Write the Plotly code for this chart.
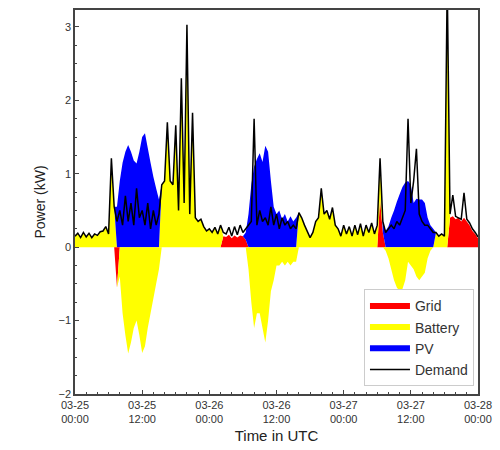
import numpy as np
import pandas as pd
import plotly.graph_objects as go

# 30-minute samples from 2024-03-25 00:00 to 2024-03-28 00:00 (UTC)
time = pd.date_range("2024-03-25 00:00", "2024-03-28 00:00", freq="30min")

demand = [
    0.15, 0.19, 0.13, 0.2, 0.14, 0.19, 0.13, 0.18, 0.16, 0.21, 0.22, 0.28,
    0.18, 1.21, 0.55, 0.35, 0.5, 0.3, 0.7, 0.35, 0.6, 0.3, 0.8, 0.4,
    0.5, 0.3, 0.6, 0.25, 0.5, 0.3, 0.45, 0.85, 0.9, 1.7, 0.9, 0.85,
    1.66, 0.5, 2.3, 0.6, 3.03, 0.45, 1.83, 0.4, 0.35, 0.38, 0.28, 0.22,
    0.25, 0.2, 0.27, 0.18, 0.3, 0.2, 0.18, 0.27, 0.15, 0.28, 0.17, 0.3,
    0.2, 0.25, 0.3, 0.35, 1.75, 0.3, 0.5, 0.35, 0.4, 0.3, 0.55, 0.3,
    0.45, 0.25, 0.4, 0.3, 0.35, 0.25, 0.3, 0.25, 0.47, 0.4, 0.3, 0.22,
    0.13, 0.2, 0.35, 0.4, 0.8, 0.45, 0.5, 0.38, 0.54, 0.3, 0.25, 0.15,
    0.3, 0.18, 0.28, 0.15, 0.3, 0.17, 0.32, 0.15, 0.3, 0.2, 0.33, 0.18,
    0.3, 1.21, 0.35, 0.2, 0.25, 0.3, 0.25, 0.35, 0.3, 0.4, 0.5, 1.75,
    0.6, 0.9, 1.34, 0.45, 0.35, 0.3, 0.3, 0.25, 0.2, 0.2, 0.15, 0.18,
    0.15, 3.6, 0.45, 0.71, 0.42, 0.4, 0.38, 0.74, 0.38, 0.33, 0.25, 0.2,
    0.14,
]

pv = [
    0, 0, 0, 0, 0, 0, 0, 0, 0, 0, 0, 0,
    0, 0, 0, 0.55, 0.9, 1.15, 1.3, 1.39, 1.3, 1.18, 1.14, 1.3,
    1.5, 1.55, 1.35, 1.15, 0.96, 0.8, 0.65, 0, 0, 0, 0, 0,
    0, 0, 0, 0, 0, 0, 0, 0, 0, 0, 0, 0,
    0, 0, 0, 0, 0, 0, 0, 0, 0, 0, 0, 0,
    0, 0.1, 0.45, 0.85, 1.1, 1.2, 1.28, 1.16, 1.38, 1.3, 0.9, 0.55,
    0.45, 0.5, 0.38, 0.45, 0.35, 0.42, 0.35, 0.4, 0, 0, 0, 0,
    0, 0, 0, 0, 0, 0, 0, 0, 0, 0, 0, 0,
    0, 0, 0, 0, 0, 0, 0, 0, 0, 0, 0, 0,
    0, 0, 0.15, 0.22, 0.28, 0.4, 0.5, 0.62, 0.72, 0.82, 0.88, 0.9,
    0.85, 0.6, 0.66, 0.65, 0.65, 0.6, 0.4, 0.3, 0.25, 0, 0, 0,
    0, 0, 0, 0, 0, 0, 0, 0, 0, 0, 0, 0,
    0,
]

battery = [
    0.15, 0.19, 0.13, 0.2, 0.14, 0.19, 0.13, 0.18, 0.16, 0.21, 0.22, 0.28,
    0.18, 1.21, 0.55, 0, -0.4, -0.9, -1.2, -1.45, -1.3, -1.1, -1.0, -1.2,
    -1.44, -1.35, -1.1, -0.9, -0.7, -0.5, -0.3, 0.85, 0.9, 1.7, 0.9, 0.85,
    1.66, 0.5, 2.3, 0.6, 3.03, 0.45, 1.83, 0.4, 0.35, 0.38, 0.28, 0.22,
    0.25, 0.2, 0.27, 0.18, 0.3, 0, 0, 0, 0, 0, 0, 0,
    0, 0, -0.3, -0.75, -1.1, -0.9, -0.9, -1.1, -1.3, -1.0, -0.6, -0.45,
    -0.25, -0.25, -0.2, -0.25, -0.2, -0.25, -0.2, -0.2, 0.47, 0.4, 0.3, 0.22,
    0.13, 0.2, 0.35, 0.4, 0.8, 0.45, 0.5, 0.38, 0.54, 0.3, 0.25, 0.15,
    0.3, 0.18, 0.28, 0.15, 0.3, 0.17, 0.32, 0.15, 0.3, 0.2, 0.33, 0.18,
    0.3, 0.55, 0, -0.05, -0.15, -0.3, -0.45, -0.55, -0.6, -0.57, -0.45, -0.2,
    -0.25, -0.3, -0.4, -0.45, -0.4, -0.35, -0.15, -0.05, 0, 0.2, 0.15, 0.18,
    0.15, 3.6, 0, 0, 0, 0, 0, 0, 0, 0, 0, 0,
    0,
]

grid = [
    0, 0, 0, 0, 0, 0, 0, 0, 0, 0, 0, 0,
    0, 0, 0, -0.55, 0, 0, 0, 0, 0, 0, 0, 0,
    0, 0, 0, 0, 0, 0, 0, 0, 0, 0, 0, 0,
    0, 0, 0, 0, 0, 0, 0, 0, 0, 0, 0, 0,
    0, 0, 0, 0, 0, 0.15, 0.14, 0.17, 0.12, 0.16, 0.13, 0.16,
    0.15, 0.1, 0, 0, 0, 0, 0, 0, 0, 0, 0, 0,
    0, 0, 0, 0, 0, 0, 0, 0, 0, 0, 0, 0,
    0, 0, 0, 0, 0, 0, 0, 0, 0, 0, 0, 0,
    0, 0, 0, 0, 0, 0, 0, 0, 0, 0, 0, 0,
    0, 0.65, 0.2, 0, 0, 0, 0, 0, 0, 0, 0, 0,
    0, 0, 0, 0, 0, 0, 0, 0, 0, 0, 0, 0,
    0, 0, 0.4, 0.42, 0.38, 0.4, 0.35, 0.4, 0.35, 0.3, 0.22, 0.18,
    0.12,
]

x_tick_labels = ["03-25<br>00:00", "03-25<br>12:00", "03-26<br>00:00",
                 "03-26<br>12:00", "03-27<br>00:00", "03-27<br>12:00",
                 "03-28<br>00:00"]
x_tick_vals = pd.date_range("2024-03-25", "2024-03-28", freq="12h")

series = [("Grid", grid, "#ff0000"), ("Battery", battery, "#ffff00"), ("PV", pv, "#0000ff")]

fig = go.Figure()
for name, vals, color in series:
    arr = np.array(vals, dtype=float)
    fig.add_trace(go.Scatter(
        x=time, y=np.clip(arr, 0, None), name=name, stackgroup="pos",
        mode="none", fillcolor=color, legendgroup=name, showlegend=True,
    ))
for name, vals, color in series:
    arr = np.array(vals, dtype=float)
    fig.add_trace(go.Scatter(
        x=time, y=np.clip(arr, None, 0), name=name, stackgroup="neg",
        mode="none", fillcolor=color, legendgroup=name, showlegend=False,
    ))
fig.add_trace(go.Scatter(
    x=time, y=demand, name="Demand", mode="lines",
    line=dict(color="black", width=1.5),
))

axis_common = dict(
    showgrid=False, zeroline=False, showline=True, linecolor="#444",
    linewidth=1.5, mirror=True, ticks="inside", ticklen=4, tickcolor="#444",
    tickfont=dict(family="Liberation Sans, Arial", size=11, color="#333"),
)

fig.update_layout(
    width=500, height=450,
    margin=dict(l=75, r=18, t=8, b=53),
    paper_bgcolor="white", plot_bgcolor="white",
    font=dict(family="Liberation Sans, Arial", color="#222"),
    showlegend=True,
    legend=dict(
        x=0.99, y=0.02, xanchor="right", yanchor="bottom",
        bgcolor="white", bordercolor="#ccc", borderwidth=1,
        font=dict(size=14, color="#333"), traceorder="normal",
        itemwidth=40,
    ),
    xaxis=dict(
        **axis_common,
        range=[time[0], time[-1]],
        tickvals=x_tick_vals, ticktext=x_tick_labels,
        minor=dict(dtick=2 * 3600 * 1000, ticks="inside", ticklen=2, tickcolor="#444"),
        title=dict(text="Time in UTC", font=dict(size=15, color="#222"), standoff=6),
    ),
    yaxis=dict(
        **axis_common,
        range=[-2, 3.23], tickvals=[-2, -1, 0, 1, 2, 3],
        minor=dict(dtick=0.25, ticks="inside", ticklen=2, tickcolor="#444"),
        title=dict(text="Power (kW)", font=dict(size=14, color="#222"), standoff=10),
    ),
)

fig.write_html("out.html", config={"displayModeBar": False},
               post_script="document.body.style.margin='0px';")
